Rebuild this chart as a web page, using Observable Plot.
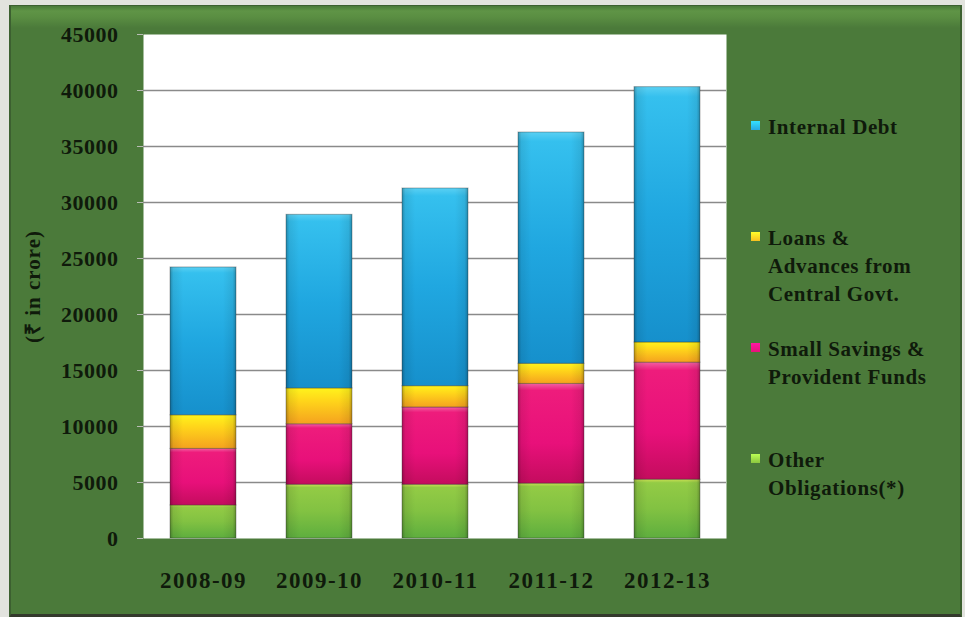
<!DOCTYPE html>
<html>
<head>
<meta charset="utf-8">
<script src="https://cdn.jsdelivr.net/npm/d3@7"></script>
<script src="https://cdn.jsdelivr.net/npm/@observablehq/plot@0.6"></script>
<style>
  html, body { margin: 0; padding: 0; background: #e2e3de; }
  #wrap { position: relative; width: 965px; height: 617px; overflow: hidden; background: #e2e3de; }
  #panel {
    position: absolute; left: 9px; top: 5px; width: 949px; height: 608px;
    background: linear-gradient(to bottom, #4a7a39 0px, #5f9446 5px, #5a8e42 11px, #4b7a3a 22px, #4b7a3a 100%);
    border-left: 2px solid #3c6030; border-right: 2px solid #3c6030; border-top: 1px solid #3c6030;
    border-bottom: 4px solid #34392c;
  }
  #chart { position: absolute; left: 0; top: 0; }
  #legend { position: absolute; left: 0; top: 0; width: 965px; height: 617px; pointer-events: none;
    font-family: "Liberation Serif", "Times New Roman", serif; font-weight: bold; font-size: 21px;
    line-height: 28px; color: #0f1a0b; letter-spacing: 0.6px; }
  .item { position: absolute; left: 768px; white-space: nowrap; }
  .mark { position: absolute; left: -17px; top: 8px; width: 9px; height: 9px; }
</style>
</head>
<body>
<div id="wrap">
  <div id="panel"></div>
  <div id="chart"></div>
  <div id="legend"></div>
</div>
<script>
// ---- data ----
const years = ["2008-09", "2009-10", "2010-11", "2011-12", "2012-13"];
const otherObligations = [2950, 4800, 4800, 4900, 5250];
const smallSavings = [5050, 5400, 6900, 8900, 10450];
const loansAdvances = [3000, 3200, 1900, 1800, 1800];
const internalDebt = [13200, 15500, 17650, 20650, 22800];
const seriesNames = ["Other Obligations(*)", "Small Savings & Provident Funds", "Loans & Advances from Central Govt.", "Internal Debt"];
const legendLines = [["Internal Debt"], ["Loans &", "Advances from", "Central Govt."], ["Small Savings &", "Provident Funds"], ["Other", "Obligations(*)"]];
const legendSeries = ["Internal Debt", "Loans & Advances from Central Govt.", "Small Savings & Provident Funds", "Other Obligations(*)"];
const yTicks = [0, 5000, 10000, 15000, 20000, 25000, 30000, 35000, 40000, 45000];
const gridTicks = [5000, 10000, 15000, 20000, 25000, 30000, 35000, 40000];
const yTitle = "(₹ in crore)";

// ---- colours ----
const gradIds = ["gGreen", "gPink", "gYellow", "gBlue"];
const gradStops = {
  gGreen: [[0, "#c9df52"], [0.06, "#93cb45"], [0.5, "#82c242"], [1, "#5eae3e"]],
  gPink: [[0, "#f25fa2"], [0.07, "#ee1c7c"], [0.6, "#e8107a"], [1, "#c40c5e"]],
  gYellow: [[0, "#fff31c"], [0.35, "#ffd61a"], [1, "#f5a21f"]],
  gBlue: [[0, "#5ad0f3"], [0.04, "#35c0ee"], [0.5, "#20a7e0"], [1, "#1690cc"]]
};
const legendColors = {"Internal Debt": "#27a9e1", "Loans & Advances from Central Govt.": "#f7c020",
  "Small Savings & Provident Funds": "#e8127a", "Other Obligations(*)": "#8cc63f"};

const seriesValues = [otherObligations, smallSavings, loansAdvances, internalDebt];
const rows = [];
seriesNames.forEach((s, i) => years.forEach((y, j) => rows.push({year: y, series: s, value: seriesValues[i][j]})));

const font = "'Liberation Serif', 'Times New Roman', serif";

const chart = Plot.plot({
  width: 965,
  height: 617,
  marginLeft: 143,
  marginRight: 239,
  marginTop: 34,
  marginBottom: 79,
  style: {background: "transparent", fontFamily: font, fontWeight: "bold", color: "#0f1a0b", overflow: "visible"},
  x: {domain: years, paddingInner: 0.435, paddingOuter: 0.2175, label: null},
  y: {domain: [0, 45000], label: null},
  color: {domain: seriesNames, range: gradIds.map(id => `url(#${id})`)},
  marks: [
    Plot.frame({fill: "white", stroke: null}),
    Plot.gridY(gridTicks, {stroke: "#8a8a8a", strokeOpacity: 1, strokeWidth: 1.6}),
    Plot.barY(rows, {x: "year", y: "value", fill: "series", order: seriesNames, stroke: "rgba(40,40,40,0.35)", strokeWidth: 1}),
    Plot.barY(rows, {x: "year", y: "value", z: "series", order: seriesNames, fill: "url(#gShade)"}),
    Plot.axisY({ticks: yTicks, tickFormat: d3.format("d"), tickSize: 6, tickPadding: 19, fontSize: 22, stroke: "#b9bdb5", fill: "#0f1a0b", label: null}),
    Plot.axisX({tickSize: 0, tickPadding: 33, fontSize: 23, fill: "#0f1a0b", label: null}),
    Plot.text([yTitle], {frameAnchor: "left", dx: -110, rotate: -90, fontSize: 21, fill: "#0f1a0b", textAnchor: "middle"})
  ]
});

// gradient definitions
const svg = d3.select(chart);
const defs = svg.insert("defs", ":first-child");
gradIds.forEach(id => {
  const g = defs.append("linearGradient").attr("id", id).attr("x1", 0).attr("y1", 0).attr("x2", 0).attr("y2", 1);
  gradStops[id].forEach(([o, c]) => g.append("stop").attr("offset", o).attr("stop-color", c));
});
const sh = defs.append("linearGradient").attr("id", "gShade").attr("x1", 0).attr("y1", 0).attr("x2", 1).attr("y2", 0);
[[0, 0.28], [0.05, 0.08], [0.2, 0], [0.8, 0], [0.95, 0.08], [1, 0.28]].forEach(([o, a]) =>
  sh.append("stop").attr("offset", o).attr("stop-color", "#000").attr("stop-opacity", a));
svg.selectAll('[aria-label="x-axis tick label"] text').style("letter-spacing", "1.5px");
svg.selectAll('[aria-label="y-axis tick label"] text').style("letter-spacing", "0.5px");
svg.selectAll('[aria-label="text"] text').style("letter-spacing", "1px");

document.getElementById("chart").appendChild(chart);

// legend
const legend = d3.select("#legend");
legendSeries.forEach((s, i) => {
  const item = legend.append("div").attr("class", "item").style("top", (113 + 111 * i) + "px");
  item.append("div").attr("class", "mark")
    .style("background", `linear-gradient(to bottom, ${d3.color(legendColors[s]).brighter(0.8)}, ${legendColors[s]})`);
  item.html(item.html() + legendLines[i].join("<br>"));
});
</script>
</body>
</html>
